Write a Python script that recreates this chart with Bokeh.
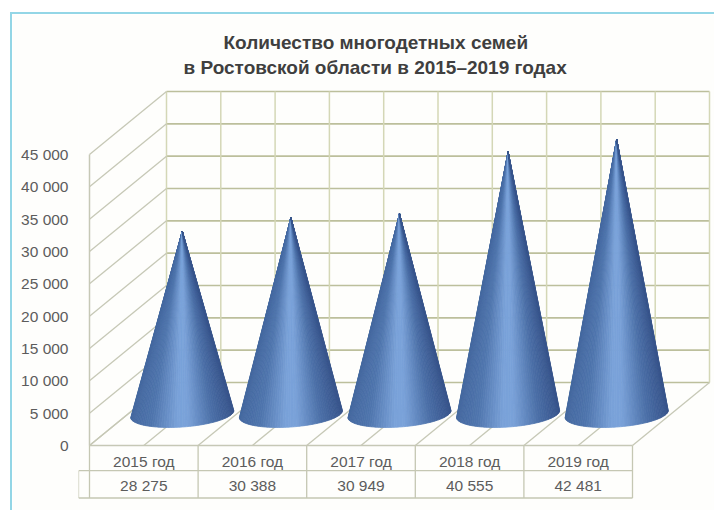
import numpy as np
from bokeh.embed import file_html
from bokeh.resources import INLINE
from bokeh.plotting import figure
from bokeh.models import Range1d, FixedTicker, Title
from bokeh.core.properties import value

title_lines = ["Количество многодетных семей", "в Ростовской области в 2015–2019 годах"]
categories = ["2015 год", "2016 год", "2017 год", "2018 год", "2019 год"]
families = [28275, 30388, 30949, 40555, 42481]
tick_values = [0, 5000, 10000, 15000, 20000, 25000, 30000, 35000, 40000, 45000]
tick_labels = ["0", "5 000", "10 000", "15 000", "20 000", "25 000", "30 000", "35 000", "40 000", "45 000"]

FONT = "Liberation Sans"
PX_X = 108.6           # px per category
PX_Y = 291 / 45000     # px per family
DX = 77 / PX_X         # depth shift in category units
DY = 63 / PX_Y         # depth shift in value units
TOP = 45000
RX, RY, TILT = 51.5 / PX_X, 13 / PX_Y, 3.5 / PX_Y
ROW1, ROW2 = -25.2 / PX_Y, -52.5 / PX_Y
STUB = -11 / PX_X


def proj(x, v, d):
    return x + DX * d, v + DY * d


p = figure(width=704, height=498, output_backend="svg", toolbar_location=None,
           x_range=Range1d(-11 / PX_X, 623 / PX_X), y_range=Range1d(-67 / PX_Y, 367 / PX_Y),
           min_border_left=66, min_border_right=4, min_border_top=64, min_border_bottom=0,
           x_axis_location=None, tools="", margin=(12, 0, 0, 10))
p.styles = {"border-top": "2px solid #93d6e6", "border-left": "2px solid #93d6e6"}
p.grid.visible = False
p.outline_line_color = None
p.background_fill_color = "#fefefc"
p.border_fill_color = "#fefefc"

for t, off in reversed(list(zip(title_lines, [145, 105]))):
    p.add_layout(Title(text=t, align="left", offset=off, text_font=FONT, text_font_style="bold",
                       text_font_size="19px", text_color="#3f3f3f", standoff=2), "above")

ax = p.yaxis[0]
ax.ticker = FixedTicker(ticks=tick_values)
ax.major_label_overrides = {v: s for v, s in zip(tick_values, tick_labels)}
ax.axis_line_color = None
ax.major_tick_line_color = None
ax.minor_tick_line_color = None
ax.major_label_standoff = 4
ax.major_label_text_font = FONT
ax.major_label_text_font_size = "15.5px"
ax.major_label_text_color = "#5c5c5c"

n = len(categories)
GRID_H = "#bcbf9c"
GRID_V = "#d4d7b6"
SIDE = "#c6c8b6"

# back wall
for v in tick_values:
    x0, y0 = proj(0, v, 1)
    x1, y1 = proj(n, v, 1)
    p.line([x0, x1], [y0, y1], line_color=GRID_H, line_width=1.6)
for k in range(2 * n + 1):
    x0, y0 = proj(k / 2, 0, 1)
    x1, y1 = proj(k / 2, TOP, 1)
    p.line([x0, x1], [y0, y1], line_color=GRID_V, line_width=1.5)

# left wall
for v in tick_values:
    x0, y0 = proj(0, v, 0)
    x1, y1 = proj(0, v, 1)
    p.line([x0, x1], [y0, y1], line_color=SIDE, line_width=1.3)
p.line([0, 0], [0, TOP], line_color=SIDE, line_width=1.5)

# floor
for k in range(2 * n + 1):
    x0, y0 = proj(k / 2, 0, 0)
    x1, y1 = proj(k / 2, 0, 1)
    p.line([x0, x1], [y0, y1], line_color=SIDE, line_width=1.3)
p.line([0, n], [0, 0], line_color=SIDE, line_width=1.6)

# table under the floor
TABLE = "#c5c7b3"
for i in range(n + 1):
    p.line([i, i], [0, ROW2], line_color=TABLE, line_width=1.3)
p.line([STUB, n], [ROW1, ROW1], line_color=TABLE, line_width=1.3)
p.line([STUB, n], [ROW2, ROW2], line_color=TABLE, line_width=1.3)
p.line([STUB, STUB], [ROW1, ROW2], line_color=TABLE, line_width=1.3)
xc = [i + 0.5 for i in range(n)]
p.text(xc, [-16 / PX_Y] * n, text=categories, text_align="center", text_baseline="middle",
       text_font=value(FONT), text_font_size="15.5px", text_color="#5c5c5c")
p.text(xc, [-40 / PX_Y] * n, text=[f"{f:,}".replace(",", " ") for f in families],
       text_align="center", text_baseline="middle",
       text_font=value(FONT), text_font_size="15.5px", text_color="#5c5c5c")

# cones, shaded slice by slice
stops_u = [-1.0, -0.6, -0.1, 0.12, 0.6, 1.0]
stops_rgb = np.array([[0x45, 0x69, 0xa0], [0x50, 0x76, 0xae], [0x7a, 0xa2, 0xd9],
                      [0x7a, 0xa2, 0xd9], [0x4c, 0x70, 0xa8], [0x38, 0x55, 0x8c]])
angles = np.linspace(np.pi, 2 * np.pi, 61)
xs, ys, colors = [], [], []
for i, f in enumerate(families):
    cx, cy = proj(i + 0.5, 0, 0.5)
    ax_, ay_ = proj(i + 0.5, f, 0.5)
    bx = cx + RX * np.cos(angles)
    by = cy + RY * np.sin(angles) + TILT * np.cos(angles)
    for a in range(len(angles) - 1):
        xs.append([ax_, bx[a], bx[a + 1]])
        ys.append([ay_, by[a], by[a + 1]])
        u = np.cos((angles[a] + angles[a + 1]) / 2)
        rgb = [int(np.interp(u, stops_u, stops_rgb[:, c])) for c in range(3)]
        colors.append("#%02x%02x%02x" % tuple(rgb))
p.patches(xs, ys, fill_color=colors, line_color=colors, line_width=0.8)

open("out.html", "w").write(file_html(p, INLINE))
